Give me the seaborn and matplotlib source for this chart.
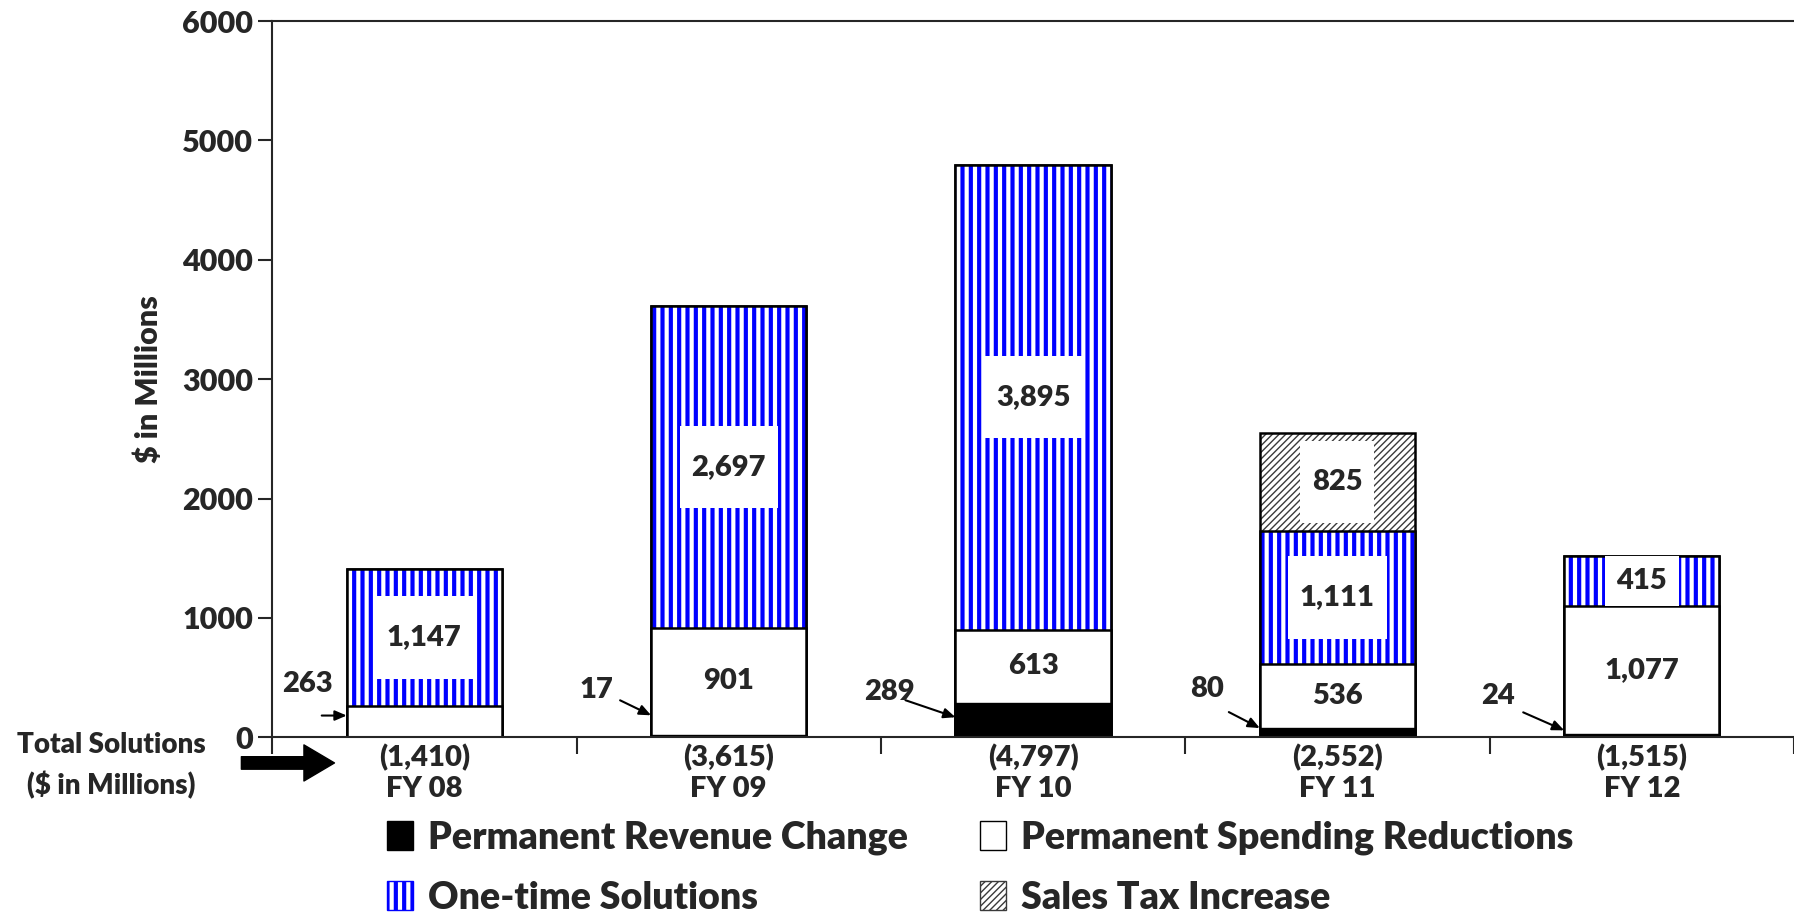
import numpy as np
import pandas as pd
import matplotlib
matplotlib.use("Agg")
import matplotlib.pyplot as plt
from matplotlib.patches import Patch, FancyArrowPatch
import seaborn as sns

# =========================
# DATA
# =========================
years = ["FY 08", "FY 09", "FY 10", "FY 11", "FY 12"]
totals_txt = ["(1,410)", "(3,615)", "(4,797)", "(2,552)", "(1,515)"]
revenue = [0, 17, 289, 80, 24]
spending = [263, 901, 613, 536, 1077]
one_time = [1147, 2697, 3895, 1111, 415]
sales_tax = [0, 0, 0, 825, 0]

# small labels shown with an arrow (FY08 points at spending, others at revenue)
small_lbl = ["263", "17", "289", "80", "24"]

# =========================
# STYLE
# =========================
sns.set_style("ticks")
plt.rcParams["font.family"] = ["Lato", "DejaVu Sans"]
plt.rcParams["font.weight"] = "heavy"
plt.rcParams["hatch.linewidth"] = 3.0
WT = "heavy"


def hatch_lw(patches, lw):
    for p in patches:
        if hasattr(p, "set_hatch_linewidth"):
            p.set_hatch_linewidth(lw)


df = pd.DataFrame({"year": years, "rev": revenue, "spend": spending,
                   "one": one_time, "tax": sales_tax})
df["c1"] = df["rev"]
df["c2"] = df["c1"] + df["spend"]
df["c3"] = df["c2"] + df["one"]
df["c4"] = df["c3"] + df["tax"]

W = 0.51
fig = plt.figure(figsize=(17.94, 9.17), dpi=100)
ax = fig.add_axes([0.1517, 0.196, 0.8483, 0.781])

common = dict(data=df, x="year", order=years, width=W, saturation=1, ax=ax, errorbar=None)
# sales tax (grey diagonal)
sns.barplot(y="c4", color="white", edgecolor="#3a3a3a", hatch="/////", linewidth=0, **common)
hatch_lw(ax.patches, 1.0)
sns.barplot(y="c4", fill=False, edgecolor="black", linewidth=1.8, **common)
# one-time (blue vertical stripes)
n0 = len(ax.patches)
sns.barplot(y="c3", color="white", edgecolor="#0000ff", hatch="||", linewidth=0, **common)
hatch_lw(ax.patches[n0:], 3.0)
sns.barplot(y="c3", fill=False, edgecolor="black", linewidth=1.8, **common)
# permanent spending (white)
sns.barplot(y="c2", color="white", edgecolor="black", linewidth=1.8, **common)
# permanent revenue (black)
sns.barplot(y="c1", color="black", edgecolor="black", linewidth=1.0, **common)

# =========================
# LABELS IN BARS
# =========================
lbl_fs = 21
box = dict(boxstyle="square,pad=0.4", facecolor="white", edgecolor="none")


def boxed(y, v, seg):
    # tall white box like the original, unless the segment is too short
    txt = f"{v:,}" if seg < 600 else f"\n{v:,}\n"
    ax.text(i, y, txt, ha="center", va="center", fontsize=lbl_fs, fontweight=WT,
            bbox=box, linespacing=0.55)


for i, r in df.iterrows():
    if r["one"] > 0:
        boxed(r["c2"] + r["one"] / 2, r["one"], r["one"])
    if r["tax"] > 0:
        boxed(r["c3"] + r["tax"] / 2, r["tax"], r["tax"])
    if i > 0:
        ax.text(i, r["c1"] + r["spend"] / 2, f"{r['spend']:,}", ha="center", va="center",
                fontsize=lbl_fs, fontweight=WT)

# arrows for the small values (offsets in pixels)
tip_y = [182, 184, 168, 77, 58]
tail_off = [(-25, 0), (-31, 15), (-50, 17), (-31, 16), (-41, 18)]
text_off = [(-39, 32), (-55, 25), (-66, 25), (-53, 39), (-66, 34)]
for i in range(len(years)):
    tip = (i - W / 2, tip_y[i])
    ax.annotate("", xy=tip, xytext=tail_off[i], textcoords="offset pixels",
                arrowprops=dict(arrowstyle="-|>,head_length=0.7,head_width=0.3",
                                color="black", lw=1.5, shrinkA=0, shrinkB=0))
    ax.annotate(small_lbl[i], xy=tip, xytext=text_off[i], textcoords="offset pixels",
                ha="center", va="center", fontsize=lbl_fs, fontweight=WT)

# =========================
# AXES
# =========================
ax.set_xlim(-0.5, len(years) - 0.5)
ax.set_ylim(0, 6000)
ax.set_yticks(np.arange(0, 6001, 1000))
ax.set_yticklabels([str(v) for v in range(0, 6001, 1000)], fontsize=22, fontweight=WT)
ax.set_xticks(range(len(years)))
ax.set_xticklabels([f"{t}\n{y}" for t, y in zip(totals_txt, years)],
                   fontsize=21, fontweight=WT, linespacing=1.2)
ax.set_xticks(np.arange(-0.5, len(years)), minor=True)
ax.tick_params(axis="x", which="major", length=0, pad=5)
ax.tick_params(axis="x", which="minor", length=12, width=1.5, direction="out")
ax.tick_params(axis="y", length=10, width=1.5, direction="out")
ax.set_xlabel("")
ax.set_ylabel("$ in Millions", fontsize=22, fontweight=WT, labelpad=14)
for s in ["left", "top", "bottom"]:
    ax.spines[s].set_linewidth(1.5)
    ax.spines[s].set_visible(True)
ax.spines["right"].set_visible(False)

# total solutions note with a thick arrow
fig.text(0.062, 0.165, "Total Solutions\n($ in Millions)", ha="center", va="center",
         fontsize=20, fontweight=WT, linespacing=1.55)
fig.add_artist(FancyArrowPatch(
    (0.133, 0.168), (0.188, 0.168), transform=fig.transFigure,
    arrowstyle="simple,head_width=1.3,head_length=1.1,tail_width=0.45",
    mutation_scale=20, color="black"))

# =========================
# LEGEND
# =========================
handles = [
    Patch(facecolor="black", edgecolor="black", label="Permanent Revenue Change"),
    Patch(facecolor="white", edgecolor="#0000ff", hatch="||", label="One-time Solutions"),
    Patch(facecolor="white", edgecolor="black", label="Permanent Spending Reductions"),
    Patch(facecolor="white", edgecolor="#3a3a3a", hatch="/////", label="Sales Tax Increase"),
]
leg = fig.legend(handles=handles, loc="upper left", bbox_to_anchor=(0.197, 0.142), ncol=2,
                 frameon=False, handlelength=0.7, handleheight=0.8,
                 handletextpad=0.4, columnspacing=1.9, labelspacing=0.68,
                 prop=dict(size=27, weight=WT))
for p in leg.get_patches():
    hatch_lw([p], 1.0 if p.get_hatch() == "/////" else 3.0)

plt.savefig("out.png", dpi=100)
